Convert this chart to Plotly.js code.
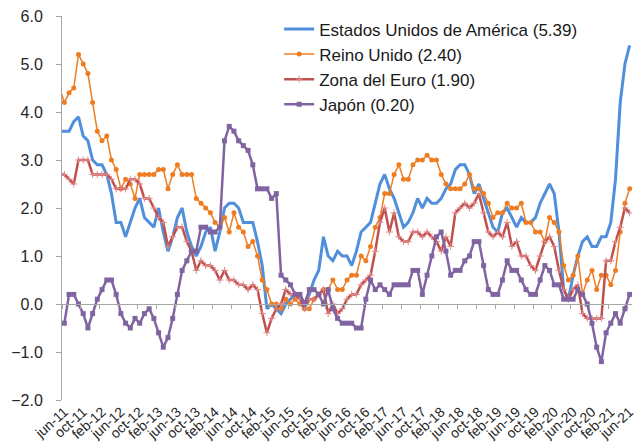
<!DOCTYPE html>
<html>
<head>
<meta charset="utf-8">
<script src="https://cdn.plot.ly/plotly-3.0.1.min.js"></script>
<style>html,body{margin:0;padding:0;background:#fff;}#chart{width:637px;height:444px;}</style>
</head>
<body>
<div id="chart"></div>
<script>
// Month names (Spanish) used for category labels
const monthNames = ['ene','feb','mar','abr','may','jun','jul','ago','sep','oct','nov','dic'];
// Categories: may-11 (partly outside the plot, at the left edge) through jun-21
const categories = [];
for (let y = 2011; y <= 2021; y++) {
  for (let m = 0; m < 12; m++) {
    if ((y === 2011 && m < 4) || (y === 2021 && m > 5)) continue;
    categories.push(monthNames[m] + '-' + String(y).slice(2));
  }
}

// Series values (annual inflation, %), from may-11 to jun-21
const usa = [3.6,
  3.6, 3.6, 3.8, 3.9, 3.5, 3.4, 3.0,
  2.9, 2.9, 2.7, 2.3, 1.7, 1.7, 1.4, 1.7, 2.0, 2.2, 1.8, 1.7,
  1.6, 2.0, 1.5, 1.1, 1.4, 1.8, 2.0, 1.5, 1.2, 1.0, 1.2, 1.5,
  1.6, 1.1, 1.5, 2.0, 2.1, 2.1, 2.0, 1.7, 1.7, 1.7, 1.3, 0.8,
  -0.1, 0.0, -0.1, -0.2, 0.0, 0.1, 0.2, 0.2, 0.0, 0.2, 0.5, 0.7,
  1.4, 1.0, 0.9, 1.1, 1.0, 1.0, 0.8, 1.1, 1.5, 1.6, 1.7, 2.1,
  2.5, 2.7, 2.4, 2.2, 1.9, 1.6, 1.7, 1.9, 2.2, 2.0, 2.2, 2.1,
  2.1, 2.2, 2.4, 2.5, 2.8, 2.9, 2.9, 2.7, 2.3, 2.5, 2.2, 1.9,
  1.6, 1.5, 1.9, 2.0, 1.8, 1.6, 1.8, 1.7, 1.7, 1.8, 2.1, 2.3,
  2.5, 2.3, 1.5, 0.3, 0.1, 0.6, 1.0, 1.3, 1.4, 1.2, 1.2, 1.4,
  1.4, 1.7, 2.6, 4.2, 5.0, 5.39];

const reinoUnido = [4.5,
  4.2, 4.4, 4.5, 5.2, 5.0, 4.8, 4.2,
  3.6, 3.4, 3.5, 3.0, 2.8, 2.4, 2.6, 2.5, 2.2, 2.7, 2.7, 2.7,
  2.7, 2.8, 2.8, 2.4, 2.7, 2.9, 2.7, 2.7, 2.7, 2.2, 2.1, 2.0,
  1.9, 1.7, 1.6, 1.8, 1.5, 1.9, 1.6, 1.5, 1.2, 1.3, 1.0, 0.5,
  0.3, 0.0, 0.0, -0.1, 0.1, 0.0, 0.1, 0.0, -0.1, -0.1, 0.1, 0.2,
  0.3, 0.3, 0.5, 0.3, 0.3, 0.5, 0.6, 0.6, 1.0, 0.9, 1.2, 1.6,
  1.8, 2.3, 2.3, 2.7, 2.9, 2.6, 2.6, 2.9, 3.0, 3.0, 3.1, 3.0,
  3.0, 2.7, 2.5, 2.4, 2.4, 2.4, 2.5, 2.7, 2.4, 2.4, 2.3, 2.1,
  1.8, 1.9, 1.9, 2.1, 2.0, 2.0, 2.1, 1.7, 1.7, 1.5, 1.5, 1.3,
  1.8, 1.7, 1.5, 0.8, 0.5, 0.6, 1.0, 0.2, 0.5, 0.7, 0.3, 0.6,
  0.6, 0.4, 0.7, 1.5, 2.1, 2.4];

const zonaEuro = [2.7,
  2.7, 2.6, 2.5, 3.0, 3.0, 3.0, 2.7,
  2.7, 2.7, 2.7, 2.6, 2.4, 2.4, 2.4, 2.6, 2.6, 2.5, 2.2, 2.2,
  2.0, 1.8, 1.7, 1.2, 1.4, 1.6, 1.6, 1.3, 1.1, 0.7, 0.9, 0.8,
  0.8, 0.7, 0.5, 0.7, 0.5, 0.5, 0.4, 0.4, 0.3, 0.4, 0.3, -0.2,
  -0.6, -0.3, -0.1, 0.0, 0.3, 0.2, 0.2, 0.1, -0.1, 0.1, 0.1, 0.2,
  0.3, -0.2, 0.0, -0.2, -0.1, 0.1, 0.2, 0.2, 0.4, 0.5, 0.6, 1.1,
  1.7, 2.0, 1.5, 1.9, 1.4, 1.3, 1.3, 1.5, 1.5, 1.4, 1.5, 1.4,
  1.3, 1.1, 1.4, 1.2, 1.9, 2.0, 2.1, 2.0, 2.1, 2.3, 1.9, 1.5,
  1.4, 1.5, 1.4, 1.7, 1.2, 1.3, 1.0, 1.0, 0.8, 0.7, 1.0, 1.3,
  1.4, 1.2, 0.7, 0.3, 0.1, 0.3, 0.4, -0.2, -0.3, -0.3, -0.3, -0.3,
  0.9, 0.9, 1.3, 1.6, 2.0, 1.9];

const japon = [null,
  -0.4, 0.2, 0.2, 0.0, -0.2, -0.5, -0.2,
  0.1, 0.3, 0.5, 0.5, 0.2, -0.2, -0.4, -0.5, -0.3, -0.4, -0.2, -0.1,
  -0.3, -0.6, -0.9, -0.7, -0.3, 0.2, 0.7, 0.9, 1.1, 1.1, 1.6, 1.6,
  1.5, 1.5, 1.6, 3.4, 3.7, 3.6, 3.4, 3.3, 3.2, 2.9, 2.4, 2.4,
  2.4, 2.2, 2.3, 0.6, 0.5, 0.4, 0.2, 0.2, 0.0, 0.3, 0.3, 0.2,
  0.0, 0.3, -0.1, -0.3, -0.4, -0.4, -0.4, -0.5, -0.5, 0.1, 0.5, 0.3,
  0.4, 0.3, 0.2, 0.4, 0.4, 0.4, 0.4, 0.7, 0.7, 0.2, 0.6, 1.0,
  1.4, 1.5, 1.1, 0.6, 0.7, 0.7, 0.9, 1.0, 1.3, 1.3, 0.8, 0.3,
  0.2, 0.2, 0.5, 0.9, 0.7, 0.7, 0.5, 0.3, 0.2, 0.2, 0.5, 0.8,
  0.7, 0.4, 0.4, 0.1, 0.1, 0.1, 0.3, 0.2, 0.0, -0.4, -0.9, -1.2,
  -0.6, -0.4, -0.2, -0.4, -0.1, 0.2];

const seriesNames = ['Estados Unidos de América (5.39)', 'Reino Unido (2.40)', 'Zona del Euro (1.90)', 'Japón (0.20)'];
const yTickVals = [-2, -1, 0, 1, 2, 3, 4, 5, 6];

// positions: jun-11 = 0
const xIdx = categories.map((c, i) => i - 1);
const labelValsA = [], labelTextA = [], labelValsB = [], labelTextB = [], boundaryVals = [];
categories.forEach((c, i) => {
  const k = i - 1;
  if (k >= 0 && k % 4 === 0) {
    boundaryVals.push(k - 0.5);
    if (k % 8 === 0) { labelValsA.push(k); labelTextA.push(c); }
    else { labelValsB.push(k); labelTextB.push(c); }
  }
});

const traces = [
  {x: xIdx, y: usa, name: seriesNames[0], type: 'scatter', mode: 'lines',
   line: {color: '#4f8fdb', width: 3}, legendgroup: 'a'},
  {x: xIdx, y: reinoUnido, name: seriesNames[1], type: 'scatter', mode: 'lines+markers',
   line: {color: '#ee7d22', width: 1.5}, marker: {symbol: 'circle', size: 5, color: '#ee7d22'}, legendgroup: 'b'},
  {x: xIdx, y: zonaEuro, name: seriesNames[2], type: 'scatter', mode: 'lines+markers',
   line: {color: '#c0504d', width: 2.5}, marker: {symbol: 'cross-thin', size: 5, line: {color: '#e2898a', width: 1}}, legendgroup: 'c'},
  {x: xIdx, y: japon, name: seriesNames[3], type: 'scatter', mode: 'lines+markers',
   line: {color: '#8064a2', width: 2.5}, marker: {symbol: 'square', size: 5, color: '#8064a2'}, legendgroup: 'd'},
  {x: [null], y: [null], xaxis: 'x2', type: 'scatter', mode: 'lines', showlegend: false, hoverinfo: 'skip'},
  {x: [null], y: [null], xaxis: 'x3', type: 'scatter', mode: 'lines', showlegend: false, hoverinfo: 'skip'}
];

const axisGray = '#a6a6a6';
const labelFont = {size: 14, color: '#262626'};
const layout = {
  width: 637, height: 444,
  margin: {l: 62, r: 5, t: 16, b: 44, pad: 0},
  paper_bgcolor: '#ffffff', plot_bgcolor: '#ffffff',
  font: {family: 'Liberation Sans, Arial, sans-serif', color: '#262626'},
  showlegend: true,
  legend: {x: 0.381, xanchor: 'left', y: 1.012, yanchor: 'top', bgcolor: 'rgba(0,0,0,0)',
    font: {size: 17, color: '#1a1a1a'}, traceorder: 'grouped', tracegroupgap: 0},
  xaxis: {range: [-0.5, 120.5], showgrid: false, zeroline: false, showline: false,
    tickmode: 'array', tickvals: labelValsA, ticktext: labelTextA, tickangle: -42,
    ticks: '', tickfont: labelFont, fixedrange: true, ticklabeloverflow: 'allow'},
  xaxis3: {overlaying: 'x', anchor: 'y', side: 'bottom', range: [-0.5, 120.5], showgrid: false, zeroline: false, showline: false,
    tickmode: 'array', tickvals: labelValsB, ticktext: labelTextB, tickangle: -42,
    ticks: '', tickfont: labelFont, ticklabeloverflow: 'allow'},
  xaxis2: {overlaying: 'x', anchor: 'free', position: 0.25, range: [-0.5, 120.5],
    showgrid: false, zeroline: false, showline: true, linecolor: axisGray, linewidth: 1,
    tickmode: 'array', tickvals: boundaryVals, ticks: 'outside', ticklen: 4, tickcolor: axisGray,
    showticklabels: false},
  yaxis: {range: [-2, 6], tickmode: 'array', tickvals: yTickVals, tickformat: '.1f',
    showgrid: false, zeroline: false, showline: true, linecolor: axisGray, linewidth: 1,
    ticks: 'outside', ticklen: 5, tickcolor: axisGray, ticklabelstandoff: 10,
    tickfont: {size: 16, color: '#262626'}}
};

Plotly.newPlot('chart', traces, layout, {displayModeBar: false, staticPlot: true});
</script>
</body>
</html>
